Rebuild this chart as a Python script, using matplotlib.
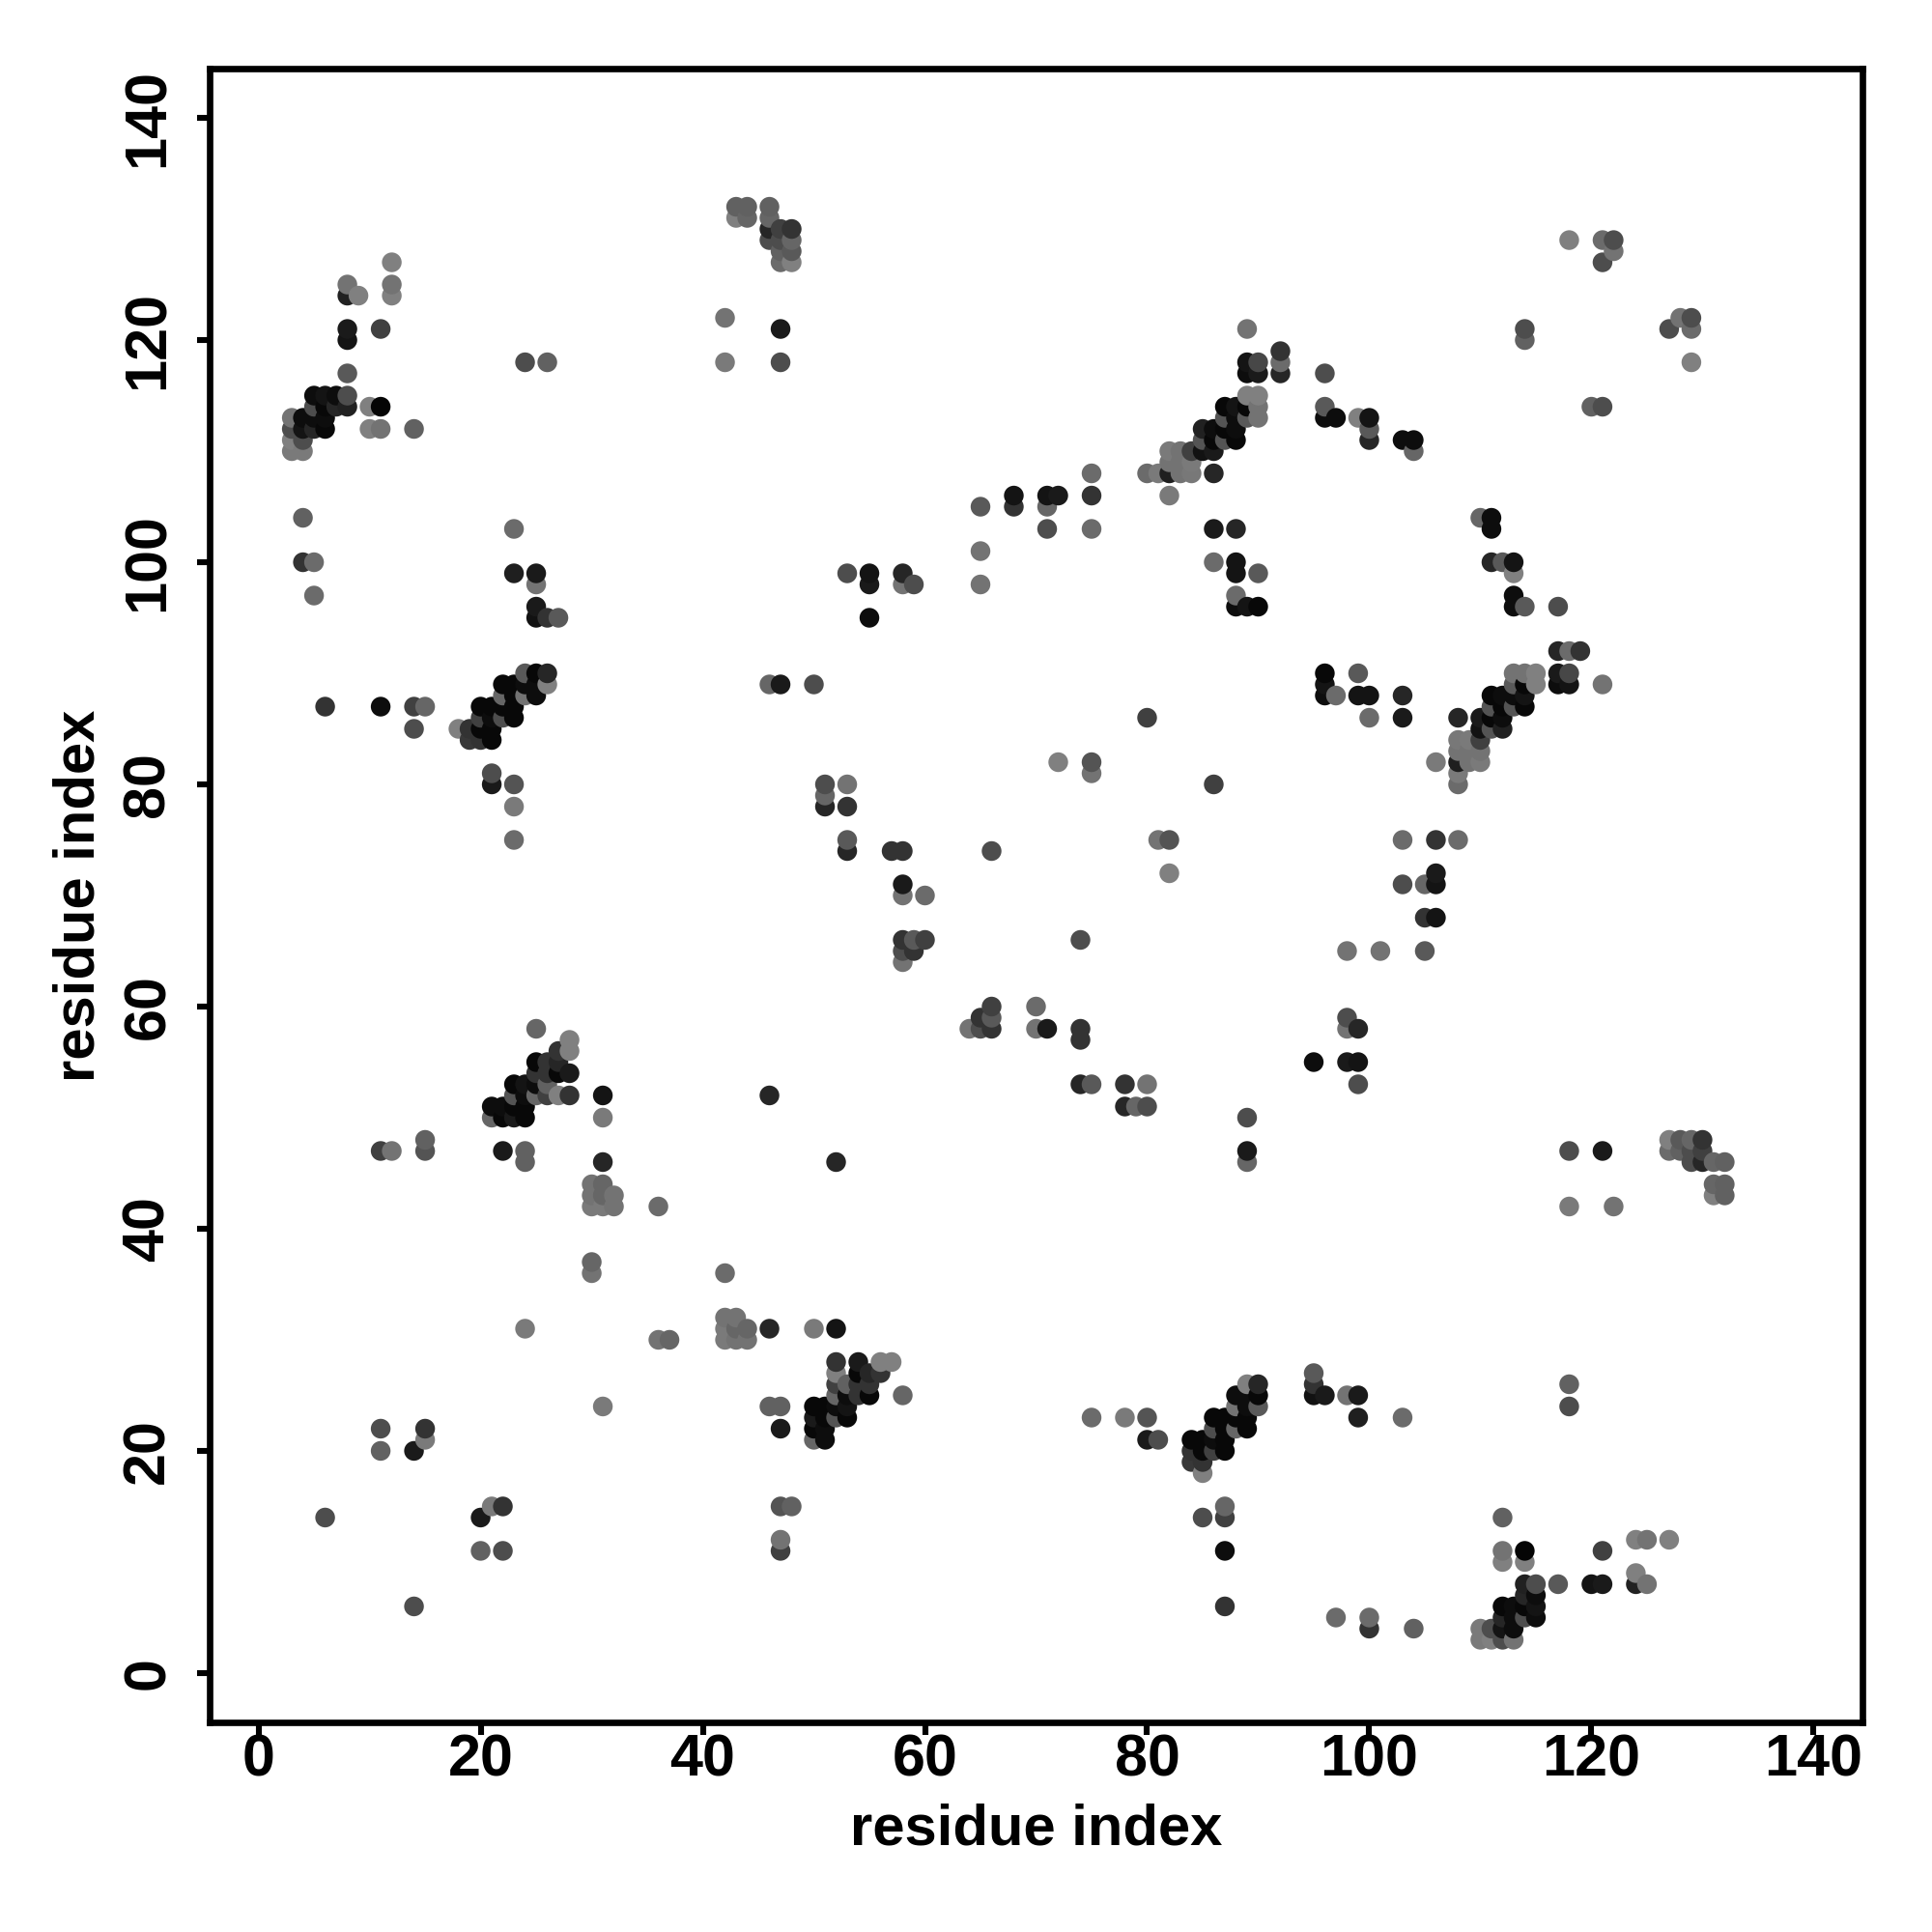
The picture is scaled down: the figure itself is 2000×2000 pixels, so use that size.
# -*- coding: utf-8 -*-

'''
residue contact map
'''

# imports
import matplotlib
matplotlib.use('Agg')
import numpy as np
import matplotlib.pyplot as plt

################################################################################

# (residue i, residue j, grey level), only i < j, the map is symmetric
contacts_a = [
    (3,110,.48),(3,111,.5),(3,112,.3),(3,113,.45),(4,110,.48),(4,111,.3),(4,112,.08),(4,113,.05),
    (4,100,.2),(4,104,.38),(5,97,.42),(5,100,.42),(5,112,.15),(5,113,.05),(5,114,.3),(5,115,.05),
    (6,14,.3),(6,87,.2),(6,112,.03),(6,113,.05),(6,114,.03),(6,115,.08),(7,114,.15),(7,115,.05),
    (8,114,.13),(8,115,.3),(8,117,.35),(8,120,.08),(8,121,.1),(8,124,.13),(8,125,.45),(9,124,.5),
    (10,112,.5),(10,114,.5),(11,20,.38),(11,22,.3),(11,47,.25),(11,87,.05),(11,112,.45),(11,114,.02),
    (11,121,.25),(12,47,.45),(12,124,.5),(12,125,.45),(12,127,.5),(14,20,.1),(14,85,.3),(14,87,.25),
    (14,112,.38),(15,21,.48),(15,22,.2),(15,47,.33),(15,48,.38),(15,87,.4),
]
contacts_b = [
    (18,85,.5),(19,84,.22),(19,85,.2),(20,84,.2),(20,85,.03),(20,86,.25),(20,87,.03),(21,80,.1),
    (21,81,.3),(21,84,.03),(21,85,.03),(21,86,.05),(21,87,.03),(21,50,.4),(21,51,.05),(22,47,.1),
    (22,50,.03),(22,51,.05),(22,86,.3),(22,87,.03),(22,88,.4),(22,89,.03),(23,50,.1),(23,51,.03),
    (23,52,.33),(23,53,.03),(23,75,.42),(23,78,.48),(23,80,.33),(23,86,.03),(23,87,.03),(23,88,.03),
    (23,89,.03),(23,99,.12),(23,103,.42),(24,31,.48),(24,46,.38),(24,47,.38),(24,50,.03),(24,51,.03),
    (24,52,.05),(24,53,.08),(24,88,.45),(24,89,.05),(24,90,.35),(24,118,.3),(25,52,.4),(25,53,.05),
    (25,54,.2),(25,55,.03),(25,58,.4),(25,88,.05),(25,89,.05),(25,90,.03),(25,95,.07),(25,96,.1),
    (25,98,.45),(25,99,.1),(26,52,.25),(26,53,.38),(26,54,.2),(26,55,.2),(26,89,.5),(26,90,.15),
    (26,95,.2),(26,118,.38),(27,52,.5),(27,54,.03),(27,55,.15),(27,56,.2),(27,95,.35),(28,52,.2),
    (28,54,.1),(28,56,.5),(28,57,.5),
]
contacts_c = [
    (30,36,.45),(30,37,.4),(30,42,.48),(30,43,.45),(30,44,.45),(31,42,.48),(31,43,.4),(31,44,.4),
    (31,46,.15),(31,50,.48),(31,52,.08),(32,42,.45),(32,43,.45),(36,42,.42),(42,118,.48),(42,122,.45),
    (43,131,.5),(43,132,.38),(44,131,.4),(44,132,.38),(46,52,.15),(46,89,.4),(46,129,.3),(46,130,.15),
    (46,131,.4),(46,132,.38),(47,89,.1),(47,118,.3),(47,121,.1),(47,127,.42),(47,128,.38),(47,129,.3),
    (47,130,.25),(48,127,.5),(48,128,.35),(48,129,.4),(48,130,.2),(50,89,.3),(51,78,.15),(51,79,.4),
    (51,80,.3),(53,74,.15),(53,75,.35),(53,78,.2),(53,80,.45),(53,99,.3),(55,95,.05),(55,98,.1),
    (55,99,.08),(57,74,.2),(58,64,.45),(58,65,.3),(58,66,.2),(58,70,.45),(58,71,.1),(58,74,.2),
    (58,98,.45),(58,99,.15),(59,65,.2),(59,66,.35),(59,98,.3),(60,66,.25),(60,70,.42),
]
contacts_d = [
    (65,98,.45),(65,101,.45),(65,105,.35),(66,74,.3),(68,105,.2),(68,106,.08),(71,103,.3),(71,105,.4),
    (71,106,.08),(72,82,.5),(72,106,.1),(75,81,.45),(75,82,.33),(75,103,.42),(75,106,.2),(75,108,.42),
    (80,86,.25),(80,108,.42),(81,108,.48),(82,106,.48),(82,108,.12),(82,109,.45),(82,110,.48),(83,108,.45),
    (83,109,.45),(83,110,.45),(84,108,.47),(84,109,.48),(84,110,.25),(85,110,.07),(85,111,.33),(85,112,.13),
    (86,100,.42),(86,103,.1),(86,108,.15),(86,110,.1),(86,111,.03),(86,112,.05),(87,111,.33),(87,112,.03),
    (87,113,.33),(87,114,.03),(88,96,.05),(88,97,.42),(88,99,.08),(88,100,.08),(88,103,.15),(88,111,.03),
    (88,112,.05),(88,113,.05),(88,114,.08),(89,96,.08),(89,113,.35),(89,114,.03),(89,115,.5),(89,117,.05),
    (89,118,.08),(89,121,.45),(90,96,.03),(90,99,.35),(90,113,.45),(90,114,.45),(90,115,.5),(90,117,.1),
    (90,118,.28),(92,117,.15),(92,118,.42),(92,119,.2),
]
contacts_e = [
    (96,113,.05),(96,114,.35),(96,117,.3),(97,113,.05),(99,113,.5),(100,111,.15),(100,112,.35),(100,113,.08),
    (103,111,.05),(104,110,.4),(104,111,.05),(114,120,.38),(114,121,.3),(118,129,.5),(121,127,.3),(121,129,.42),
    (122,128,.45),(122,129,.3),
]

tick_values = [0, 20, 40, 60, 80, 100, 120, 140]
x_label = 'residue index'
y_label = 'residue index'

################################################################################

def get_points():
    rows = np.array(contacts_a + contacts_b + contacts_c + contacts_d + contacts_e)
    # mirror over the diagonal
    i = np.concatenate([rows[:, 0], rows[:, 1]])
    j = np.concatenate([rows[:, 1], rows[:, 0]])
    grey = np.concatenate([rows[:, 2], rows[:, 2]])
    order = np.lexsort((j, i))
    return i[order], j[order], grey[order]

if __name__ == "__main__":

    plt.rcParams['font.family'] = ['Liberation Sans']
    plt.rcParams['font.weight'] = 'bold'

    figure = plt.figure(figsize=(10, 10), dpi=200)
    ax = figure.add_axes([217 / 2000, 1 - 1783 / 2000, 1711 / 2000, 1712 / 2000])

    i, j, grey = get_points()
    ax.scatter(i, j, s=54, c=[(g, g, g) for g in grey], linewidths=0, zorder=3)

    ax.set_xlim(-4.4, 144.4)
    ax.set_ylim(-4.44, 144.44)
    ax.set_xticks(tick_values)
    ax.set_yticks(tick_values)
    ax.tick_params(axis='both', length=4.6, width=2.2, labelsize=22, color='black')
    ax.tick_params(axis='x', pad=-0.3)
    ax.tick_params(axis='y', pad=7.7)
    for label in ax.get_yticklabels():
        label.set_rotation(90)
        label.set_va('center')
    for side in ax.spines.values():
        side.set_linewidth(2.4)

    ax.set_xlabel(x_label, fontsize=21.5, fontweight='bold', va='center')
    ax.set_ylabel(y_label, fontsize=21.5, fontweight='bold', va='center')
    ax.xaxis.set_label_coords(0.5, -0.065)
    ax.yaxis.set_label_coords(-0.079, 0.5)

    figure.savefig('out.png', dpi=200)
